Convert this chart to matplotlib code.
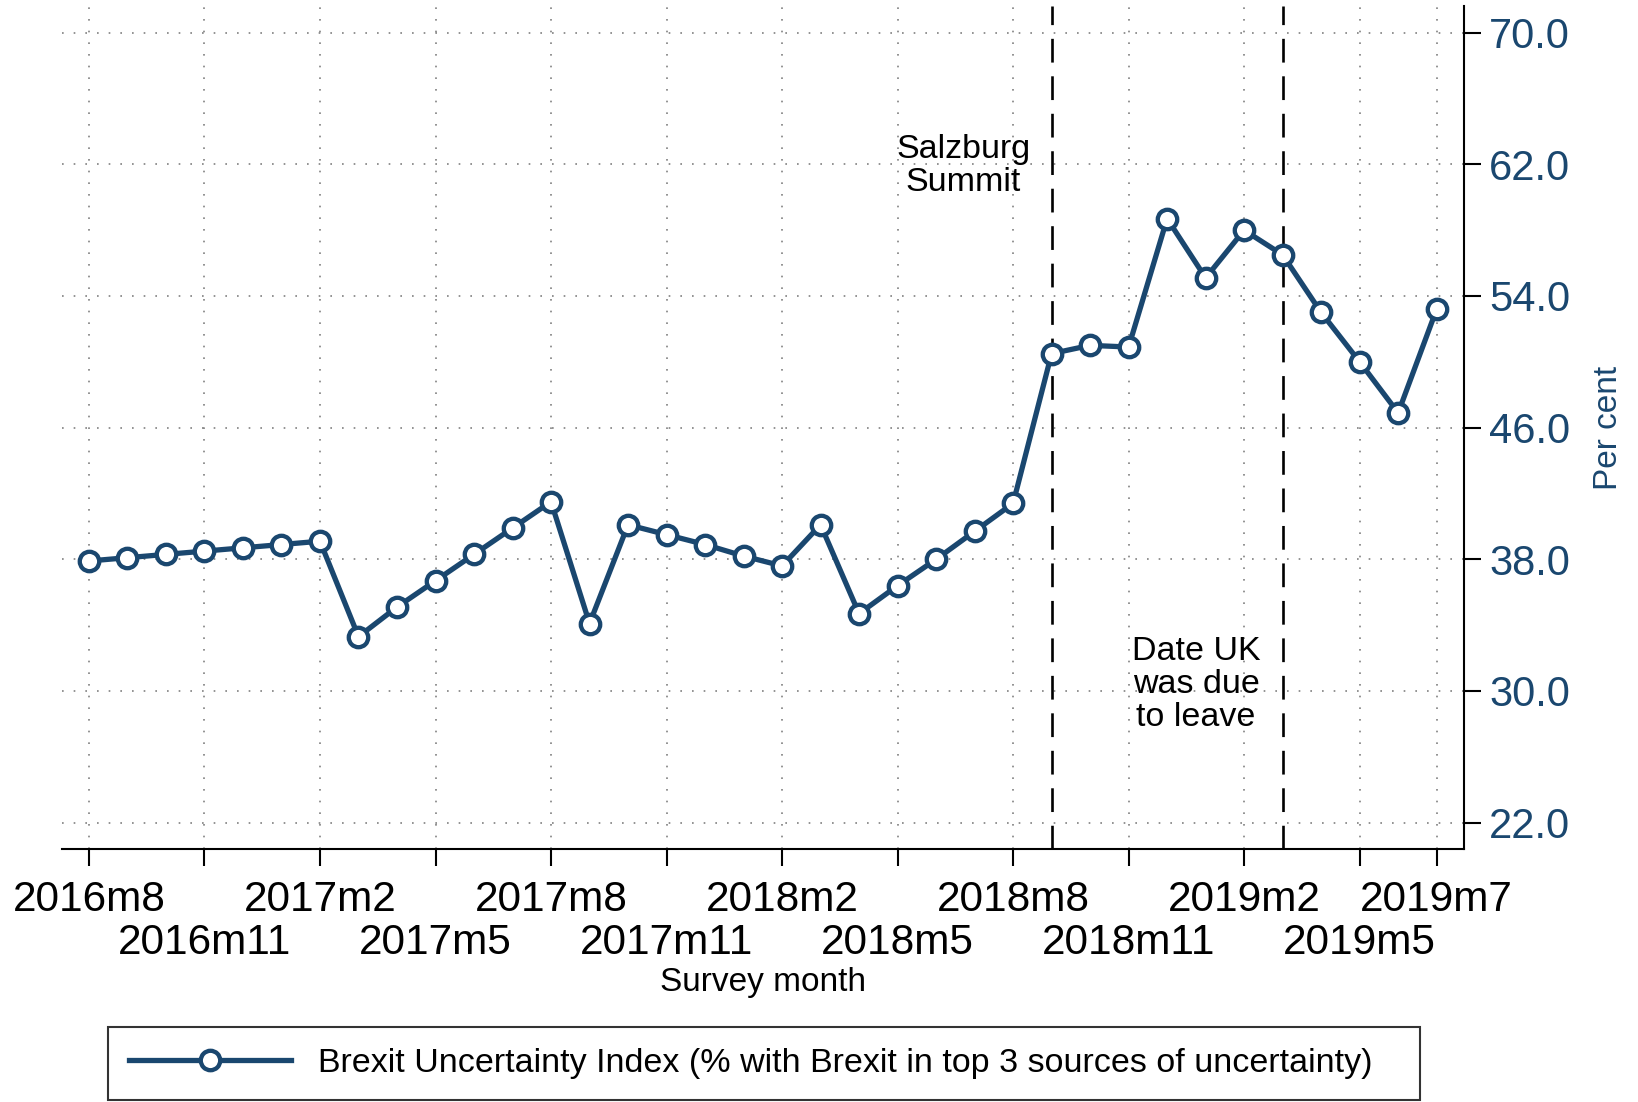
import matplotlib
matplotlib.use("Agg")
import matplotlib.pyplot as plt
import numpy as np

# Survey months, Aug 2016 - Jul 2019
months = ["2016m8", "2016m9", "2016m10", "2016m11", "2016m12",
          "2017m1", "2017m2", "2017m3", "2017m4", "2017m5", "2017m6",
          "2017m7", "2017m8", "2017m9", "2017m10", "2017m11", "2017m12",
          "2018m1", "2018m2", "2018m3", "2018m4", "2018m5", "2018m6",
          "2018m7", "2018m8", "2018m9", "2018m10", "2018m11", "2018m12",
          "2019m1", "2019m2", "2019m3", "2019m4", "2019m5", "2019m6",
          "2019m7"]
index_values = [37.9, 38.1, 38.3, 38.5, 38.7, 38.9, 39.1, 33.3, 35.1, 36.7,
                38.3, 39.9, 41.5, 34.1, 40.1, 39.5, 38.9, 38.2, 37.6, 40.1,
                34.7, 36.4, 38.0, 39.7, 41.4, 50.5, 51.0, 50.9, 58.7, 55.1,
                58.0, 56.5, 53.0, 50.0, 46.9, 53.2]
# x labels are staggered on two rows
top_row_months = ["2016m8", "2017m2", "2017m8", "2018m2", "2018m8", "2019m2", "2019m7"]
low_row_months = ["2016m11", "2017m5", "2017m11", "2018m5", "2018m11", "2019m5"]
y_ticks = [22, 30, 38, 46, 54, 62, 70]
event_months = ["2018m9", "2019m3"]
event_labels = ["Salzburg\nSummit", "Date UK\nwas due\nto leave"]
legend_label = "Brexit Uncertainty Index (% with Brexit in top 3 sources of uncertainty)"

navy = "#1a476f"
plt.rcParams["font.family"] = ["Liberation Sans", "DejaVu Sans"]

x = np.arange(len(months))
pos = {m: i for i, m in enumerate(months)}

fig = plt.figure(figsize=(16.38, 11.02), dpi=100)
ax = fig.add_axes([62 / 1638, 1 - 849 / 1102, (1464 - 62) / 1638, (849 - 6) / 1102])

# event lines
for m in event_months:
    ax.axvline(pos[m], color="black", lw=1.9, linestyle=(0, (9, 5.2)), zorder=2)

line, = ax.plot(x, index_values, color=navy, lw=3.8, marker="o", ms=14,
                mfc="white", mec=navy, mew=3.1, zorder=3, label=legend_label)

# annotations
ax.text(22.7, 61.9, event_labels[0], ha="center", va="center", fontsize=24.5,
        linespacing=1.08)
ax.text(28.75, 30.4, event_labels[1], ha="center", va="center", fontsize=24.5,
        linespacing=1.08)

ax.set_xlim(-0.7, 35.71)
ax.set_ylim(20.4, 71.62)

ax.set_xticks([pos[m] for m in top_row_months])
ax.set_xticklabels(top_row_months, fontsize=30.5)
ax.set_xticks([pos[m] for m in low_row_months], minor=True)
ax.set_xticklabels(low_row_months, minor=True, fontsize=30.5)
ax.set_yticks(y_ticks)
ax.set_yticklabels([f"{v:.1f}" for v in y_ticks], fontsize=30, color=navy)

ax.yaxis.tick_right()
ax.yaxis.set_label_position("right")
ax.tick_params(axis="both", which="both", length=12, width=1.5, direction="out")
ax.tick_params(axis="x", which="major", pad=10)
ax.tick_params(axis="x", which="minor", pad=41)
ax.tick_params(axis="y", pad=6)

for s in ["top", "left"]:
    ax.spines[s].set_visible(False)
for s in ["bottom", "right"]:
    ax.spines[s].set_linewidth(1.5)

ax.grid(True, which="both", color="#808080", lw=1.2, linestyle=(0, (1, 6)), zorder=0)
ax.set_axisbelow(True)

ax.set_ylabel("Per cent", fontsize=24, color=navy)
ax.yaxis.set_label_coords(1.1034, 0.5)
ax.yaxis.label.set_va("center")
ax.set_xlabel("Survey month", fontsize=24)
ax.xaxis.set_label_coords(0.5, -0.158)
ax.xaxis.label.set_va("center")

leg = fig.legend(handles=[line], loc="lower left", mode="expand",
                 bbox_to_anchor=(108 / 1638, 2 / 1102, (1420 - 108) / 1638, 0.07),
                 fontsize=24.5, frameon=True, fancybox=False, handlelength=4.75,
                 handletextpad=0.8, borderpad=0.62, borderaxespad=0)
leg.get_frame().set_edgecolor("black")
leg.get_frame().set_linewidth(1.5)

fig.savefig("out.png", dpi=100)
